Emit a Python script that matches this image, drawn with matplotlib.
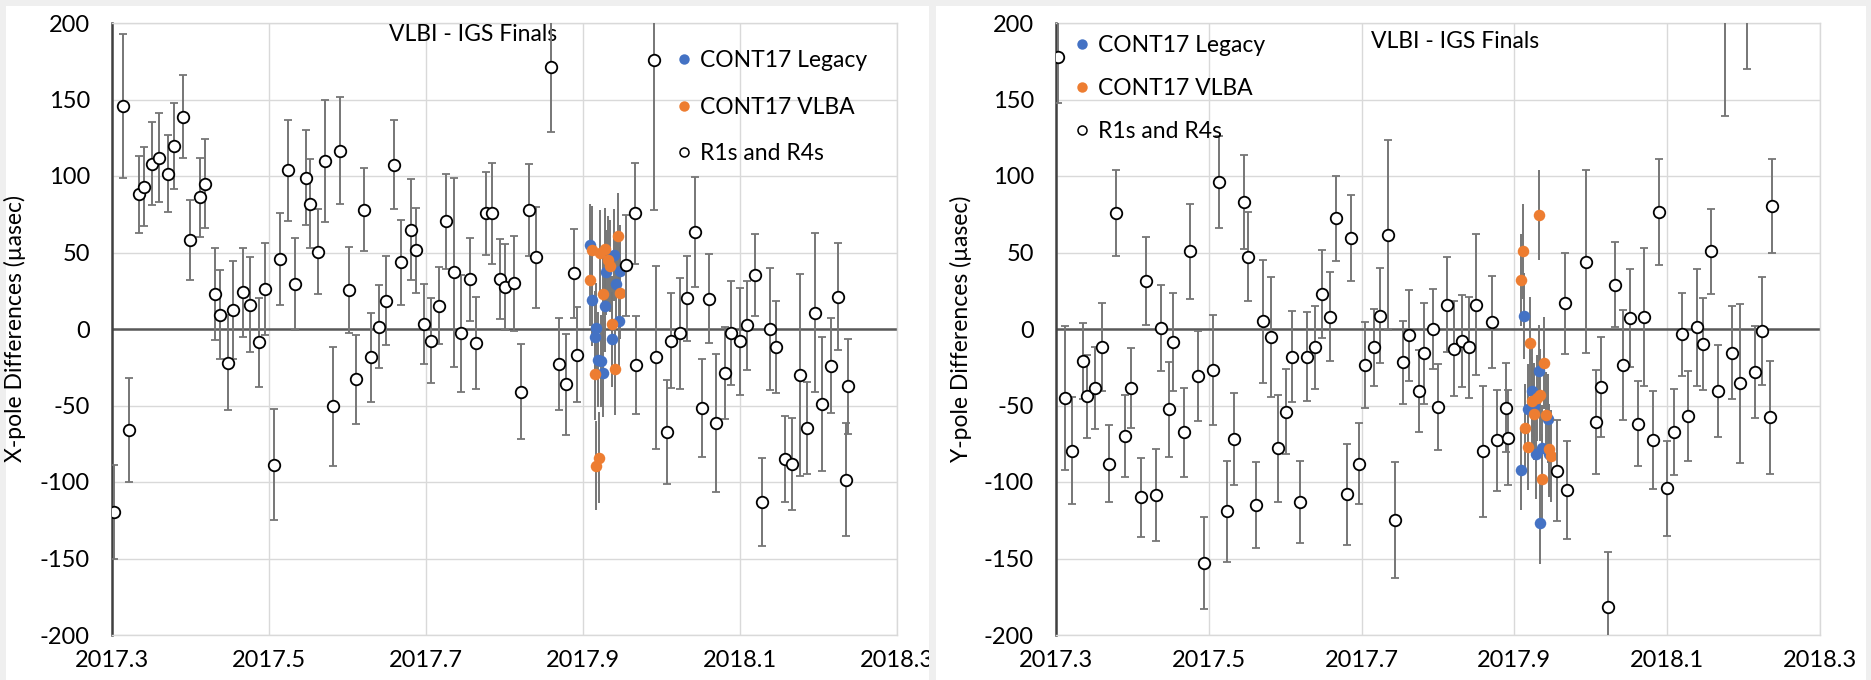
import matplotlib
matplotlib.use("Agg")
import matplotlib.pyplot as plt
from matplotlib.lines import Line2D
from matplotlib.patches import Rectangle
from matplotlib.ticker import FixedLocator, FuncFormatter

plt.rcParams['font.family'] = ['Lato', 'DejaVu Sans']

# ---------- X-pole (left panel) ----------
x_r1_t = [2017.303, 2017.3136, 2017.322, 2017.335, 2017.341, 2017.351, 2017.360, 2017.371,
          2017.379, 2017.390, 2017.399, 2017.412, 2017.418, 2017.431, 2017.437, 2017.448,
          2017.454, 2017.467, 2017.4755, 2017.487, 2017.4955, 2017.5065, 2017.514, 2017.524,
          2017.533, 2017.547, 2017.5525, 2017.563, 2017.571, 2017.582, 2017.591, 2017.602,
          2017.611, 2017.621, 2017.630, 2017.640, 2017.649, 2017.6595, 2017.668, 2017.681,
          2017.687, 2017.698, 2017.706, 2017.7165, 2017.725, 2017.736, 2017.7445, 2017.7556,
          2017.7636, 2017.777, 2017.7837, 2017.7943, 2017.801, 2017.812, 2017.8206, 2017.8316,
          2017.8397, 2017.8588, 2017.870, 2017.8783, 2017.8885, 2017.892, 2017.9544, 2017.9658,
          2017.968, 2017.990, 2017.9934, 2018.007, 2018.0125, 2018.0236, 2018.0325, 2018.043,
          2018.051, 2018.061, 2018.070, 2018.081, 2018.089, 2018.0996, 2018.1085, 2018.119,
          2018.128, 2018.1386, 2018.146, 2018.157, 2018.166, 2018.177, 2018.1854, 2018.196,
          2018.2045, 2018.2155, 2018.2244, 2018.2355, 2018.2376]
x_r1_v = [-119.6, 146, -65.8, 88, 93, 108, 112, 101.5,
          119.6, 138.7, 58, 86, 95, 22.8, 9.4, -22,
          12.3, 24, 16, -8.7, 26, -88.6, 46, 103.6,
          29.6, 99, 82, 50.6, 110, -50.6, 116.4, 25.7,
          -33, 78, -18.6, 1.6, 18.4, 107.5, 43.5, 64.8,
          51.4, 3.4, -7.6, 15.2, 70.5, 37, -2.9, 32.5,
          -9.4, 75.5, 75.8, 32.8, 27.3, 30, -41, 78,
          47, 171.5, -23, -36, 36.4, -16.8, 41.7, 75.8,
          -23.3, 176, -18.6, -67.4, -7.6, -2.9, 20, 63.5,
          -51.4, 19.7, -61.4, -28.6, -2.6, -8, 2.4, 35.4,
          -113, 0, -11.8, -85, -88, -30, -64.5, 10.7,
          -49, -24, 21, -98.6, -37.5]
x_r1_e = [31, 47, 34, 25, 26, 27, 29, 25,
          28, 27, 26, 26, 29, 30, 29, 31,
          32, 29, 31, 29, 30, 36, 30, 33,
          30, 31, 29, 28, 40, 39, 35, 28,
          29, 27, 29, 27, 29, 29, 28, 33,
          28, 26, 28, 25, 31, 62, 38, 27,
          30, 27, 33, 26, 28, 31, 31, 30,
          33, 43, 30, 33, 29, 31, 33, 33,
          32, 98, 60, 34, 31, 36, 28, 36,
          32, 29, 45, 30, 34, 35, 29, 27,
          29, 40, 30, 28, 30, 66, 30, 52,
          44, 31, 35, 37, 31]

x_leg_t = [2017.9085, 2017.912, 2017.915, 2017.917, 2017.9195, 2017.9234, 2017.926,
           2017.928, 2017.9297, 2017.937, 2017.940, 2017.942, 2017.9454, 2017.947]
x_leg_v = [54.8, 19.1, -5, 0.8, -20, -21, -28.6, 15, 37, -6.6, 48.5, 29.4, 5, 38]
x_leg_e = [27, 30, 30, 29, 31, 30, 29, 30, 28, 31, 30, 29, 31, 30]

x_vlba_t = [2017.9085, 2017.9115, 2017.9157, 2017.917, 2017.920, 2017.9217, 2017.926,
            2017.928, 2017.9314, 2017.934, 2017.937, 2017.941, 2017.9446, 2017.9467]
x_vlba_v = [32, 51.4, -29.6, -89.4, -84, 49.6, 22.8, 52, 45, 41, 3.4, -26, 60.6, 23.3]
x_vlba_e = [30, 29, 30, 29, 30, 28, 30, 27, 29, 30, 31, 30, 28, 30]

# ---------- Y-pole (right panel) ----------
y_r1_t = [2017.302, 2017.312, 2017.321, 2017.335, 2017.3405, 2017.3514, 2017.360, 2017.370,
          2017.379, 2017.390, 2017.3976, 2017.4115, 2017.418, 2017.4307, 2017.4368, 2017.4477,
          2017.4534, 2017.467, 2017.475, 2017.4856, 2017.494, 2017.505, 2017.513, 2017.5244,
          2017.5327, 2017.5458, 2017.5519, 2017.5623, 2017.5706, 2017.5815, 2017.5906, 2017.6007,
          2017.6094, 2017.6198, 2017.628, 2017.639, 2017.6486, 2017.6586, 2017.6669, 2017.6804,
          2017.686, 2017.697, 2017.7048, 2017.7157, 2017.7244, 2017.7349, 2017.7436, 2017.7545,
          2017.762, 2017.7754, 2017.7819, 2017.793, 2017.8006, 2017.8124, 2017.8211, 2017.8316,
          2017.840, 2017.8503, 2017.8595, 2017.8704, 2017.8778, 2017.8887, 2017.8913, 2017.9553,
          2017.9658, 2017.9693, 2017.9932, 2018.0068, 2018.0128, 2018.0229, 2018.0316, 2018.0425,
          2018.0508, 2018.0617, 2018.070, 2018.0808, 2018.0895, 2018.100, 2018.1083, 2018.1192,
          2018.1275, 2018.1388, 2018.1466, 2018.157, 2018.1662, 2018.1763, 2018.1854, 2018.1958,
          2018.2046, 2018.2146, 2018.2237, 2018.2346, 2018.2377]
y_r1_v = [178, -45, -79.6, -21, -44, -38.6, -11.8, -88,
          75.7, -70, -38.4, -110, 31.3, -108.5, 0.5, -52.6,
          -8.4, -67.5, 50.7, -30.7, -153, -27, 96, -119,
          -72, 83, 47.3, -115, 5, -5.3, -78, -54,
          -18, -113, -18, -12, 22.9, 8.1, 72.3, -108,
          59.4, -88, -23.6, -12, 8.7, 61.5, -125, -21.8,
          -4.2, -40.5, -15.8, 0, -51.2, 15.8, -13, -8,
          -12, 15.8, -80, 4.5, -72.8, -51.5, -71, -92.8,
          16.8, -105, 44, -61, -38, -182, 29, -23.4,
          7.4, -61.8, 7.9, -72.8, 76.5, -104, -67.5, -3.4,
          -56.8, 1, -10, 50.7, -40.5, 230, -15.5, -35.5,
          210, -27.9, -1.3, -57.6, 80.4]
y_r1_e = [30, 47, 35, 25, 27, 27, 29, 25,
          28, 27, 26, 26, 29, 30, 28, 31,
          32, 29, 31, 29.5, 30, 36, 30, 33,
          30, 31, 29, 28, 40, 39, 35, 28,
          29.5, 27, 29, 27, 29, 29, 28, 33,
          28, 26.5, 28, 25, 31, 62, 38, 27,
          30, 27, 33, 26, 28, 31, 31, 30,
          33, 46, 43, 30, 33, 29, 31, 33,
          33, 32, 60, 34, 32.5, 36, 28, 36,
          32, 28, 45, 32, 34.5, 31, 28, 27,
          29.5, 38, 30, 28, 30, 91, 30.5, 52,
          40, 30, 35, 37, 31]

y_leg_t = [2017.909, 2017.913, 2017.9183, 2017.9227, 2017.925, 2017.9283, 2017.9318,
           2017.934, 2017.9357, 2017.9436, 2017.945]
y_leg_v = [-92, 8.7, -52, -40.7, -50, -82, -27.6, -126.7, -77.5, -58.6, -82]
y_leg_e = [26, 28, 29, 30, 28, 29, 30, 27, 28, 29, 28]

y_vlba_t = [2017.9092, 2017.9113, 2017.914, 2017.9174, 2017.920, 2017.9225, 2017.9253,
            2017.929, 2017.9318, 2017.934, 2017.936, 2017.9388, 2017.9418, 2017.9453, 2017.948]
y_vlba_v = [32, 50.7, -65, -77, -9.2, -47, -55.7, -45, 74.4, -43, -97.8, -22.3, -56, -78.3, -82.8]
y_vlba_e = [30, 31, 29, 28, 30, 29, 30, 28, 29.5, 30, 29, 30, 28, 29, 30]

x_ticks = [2017.3, 2017.5, 2017.7, 2017.9, 2018.1, 2018.3]
y_ticks = [-200, -150, -100, -50, 0, 50, 100, 150, 200]

BLUE = '#4472C4'
ORANGE = '#ED7D31'
BAR = '#767676'
FS = 17

fig = plt.figure(figsize=(18.71, 6.8), dpi=100, facecolor='#efefef')
W, H = 1871.0, 680.0

# white panels behind each chart
panel_l = Rectangle((6 / W, 0), (929 - 6) / W, (680 - 6) / H, transform=fig.transFigure,
                    facecolor='white', edgecolor='none', zorder=-1)
panel_r = Rectangle((936 / W, 0), (1866 - 936) / W, (680 - 6) / H, transform=fig.transFigure,
                    facecolor='white', edgecolor='none', zorder=-1)
fig.patches.extend([panel_l, panel_r])

ax1 = fig.add_axes([112 / W, 45 / H, 785 / W, 612 / H])
ax2 = fig.add_axes([1056 / W, 45 / H, 764 / W, 612 / H])


def draw_panel(ax, r_t, r_v, r_e, l_t, l_v, l_e, v_t, v_v, v_e):
    eb = dict(fmt='o', ecolor=BAR, elinewidth=1.4, capsize=3, capthick=1.4)
    ax.errorbar(l_t, l_v, yerr=l_e, color=BLUE, mew=0, ms=8.3, zorder=3, **eb)
    ax.errorbar(v_t, v_v, yerr=v_e, color=ORANGE, mew=0, ms=8.3, zorder=3, **eb)
    ax.errorbar(r_t, r_v, yerr=r_e, mfc='white', mec='black', mew=1.3, ms=8.3, zorder=4, **eb)
    ax.axhline(0, color='#595959', lw=1.8, zorder=2)
    ax.set_xlim(2017.3, 2018.3)
    ax.set_ylim(-200, 200)
    ax.xaxis.set_major_locator(FixedLocator(x_ticks))
    ax.yaxis.set_major_locator(FixedLocator(y_ticks))
    ax.xaxis.set_major_formatter(FuncFormatter(lambda v, _: f"{v:.1f}"))
    ax.yaxis.set_major_formatter(FuncFormatter(lambda v, _: f"{v:.0f}"))
    ax.grid(True, color='#d9d9d9', lw=1)
    ax.set_axisbelow(True)
    ax.tick_params(length=0, labelsize=FS, colors='black')
    ax.tick_params(axis='x', pad=11)
    ax.tick_params(axis='y', pad=16)
    for side in ['top', 'right', 'bottom']:
        ax.spines[side].set_color('#d9d9d9')
        ax.spines[side].set_linewidth(1)
    ax.spines['left'].set_color('#404040')
    ax.spines['left'].set_linewidth(1.8)


draw_panel(ax1, x_r1_t, x_r1_v, x_r1_e, x_leg_t, x_leg_v, x_leg_e, x_vlba_t, x_vlba_v, x_vlba_e)
draw_panel(ax2, y_r1_t, y_r1_v, y_r1_e, y_leg_t, y_leg_v, y_leg_e, y_vlba_t, y_vlba_v, y_vlba_e)

ax1.set_ylabel('X-pole Differences (µasec)', fontsize=16.5)
ax1.yaxis.set_label_coords(-0.1096, 0.5)
ax2.set_ylabel('Y-pole Differences (µasec)', fontsize=16.5)
ax2.yaxis.set_label_coords(-0.11, 0.5)

ax1.text(0.46, 0.981, 'VLBI - IGS Finals', transform=ax1.transAxes, ha='center', va='center', fontsize=16.5)
ax2.text(0.522, 0.97, 'VLBI - IGS Finals', transform=ax2.transAxes, ha='center', va='center', fontsize=16.5)

handles = [Line2D([], [], ls='none', marker='o', ms=7.5, color=BLUE, mew=0),
           Line2D([], [], ls='none', marker='o', ms=7.5, color=ORANGE, mew=0),
           Line2D([], [], ls='none', marker='o', ms=6.5, mfc='white', mec='black', mew=1.1)]
labels = ['CONT17 Legacy', 'CONT17 VLBA', 'R1s and R4s']
ax1.legend(handles, labels, loc='upper left', bbox_to_anchor=(0.7204, 0.956), frameon=False,
           fontsize=16.5, handlelength=0.6, handletextpad=0.4, labelspacing=1.12, borderpad=0,
           borderaxespad=0)
ax2.legend(handles, labels, loc='upper left', bbox_to_anchor=(0.0254, 0.981), frameon=False,
           fontsize=16.5, handlelength=0.6, handletextpad=0.4, labelspacing=0.97, borderpad=0,
           borderaxespad=0)

# the left panel's last tick label is cut off by its panel edge
ax1.xaxis.get_major_ticks()[-1].label1.set_clip_path(panel_l)

fig.savefig('out.png', dpi=100, facecolor=fig.get_facecolor())
